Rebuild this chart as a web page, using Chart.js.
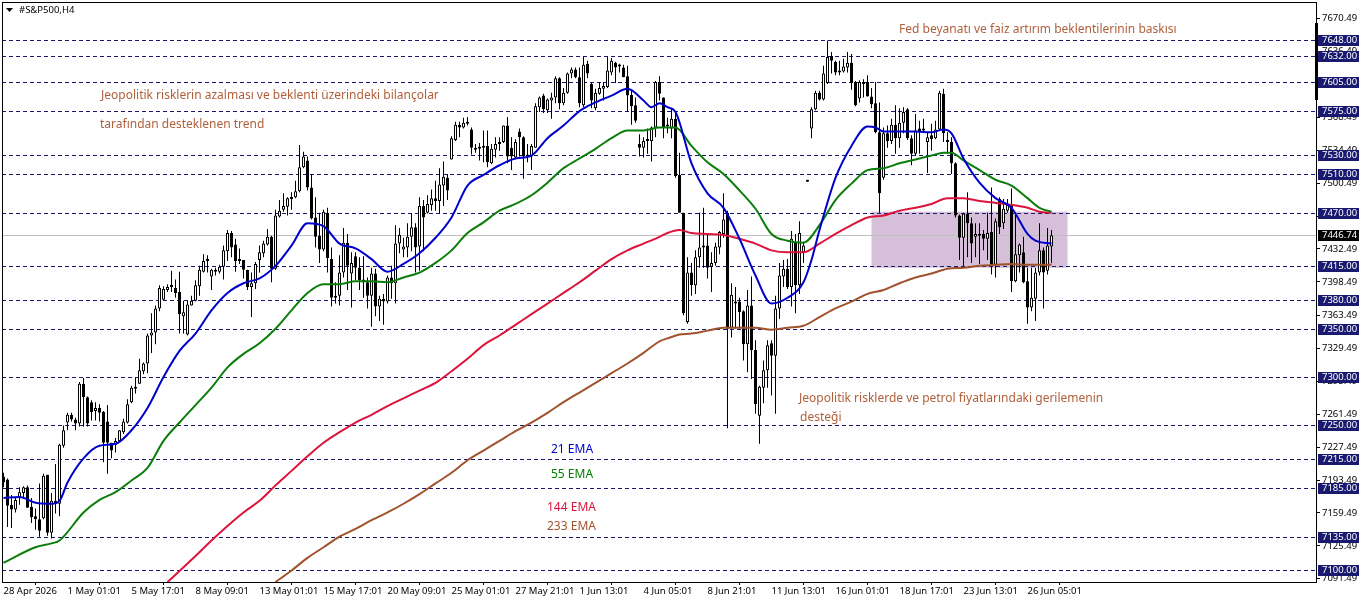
<!DOCTYPE html>
<html>
<head>
<meta charset="utf-8">
<title>#S&amp;P500,H4</title>
<script src="https://cdn.jsdelivr.net/npm/chart.js@4"></script>
<style>
  html, body { margin:0; padding:0; background:#fff; overflow:hidden; }
  canvas { display:block; }
</style>
</head>
<body>
<canvas id="chart" width="1362" height="603"></canvas>
<script>
const opens = [
  7197,7194,7168,7163,7175,7180,7186,7166,7156,7153,
  7154,7199,7139,7172,7169,7229,7253,7261,7256,7252,
  7293,7279,7274,7265,7268,7264,7254,7232,7230,7234,
  7243,7253,7274,7290,7293,7306,7314,7343,7346,7371,
  7380,7390,7395,7392,7388,7363,7344,7374,7379,7394,
  7409,7420,7404,7409,7409,7414,7430,7449,7437,7421,
  7421,7411,7393,7397,7421,7428,7437,7445,7412,7466,
  7473,7476,7486,7486,7492,7517,7524,7496,7465,7446,
  7432,7470,7422,7384,7384,7408,7439,7407,7425,7413,
  7401,7398,7384,7407,7373,7381,7378,7403,7397,7438,
  7432,7434,7445,7455,7435,7477,7470,7478,7485,7482,
  7498,7506,7525,7545,7561,7558,7564,7556,7537,7536,
  7537,7539,7521,7535,7543,7543,7560,7537,7527,7554,
  7548,7530,7528,7537,7579,7591,7576,7586,7589,7609,
  7583,7594,7614,7618,7610,7581,7624,7603,7578,7593,
  7598,7600,7615,7625,7622,7620,7611,7592,7581,7541,
  7537,7546,7544,7558,7605,7589,7559,7557,7567,7509,
  7470,7357,7408,7395,7424,7436,7436,7414,7418,7434,
  7448,7470,7351,7376,7378,7368,7334,7374,7328,7260,
  7289,7307,7335,7322,7371,7404,7412,7393,7439,7395,
  7429,7502,7557,7577,7594,7587,7604,7632,7626,7617,
  7616,7620,7625,7605,7588,7605,7605,7590,7583,7553,
  7506,7552,7544,7561,7547,7563,7577,7547,7531,7557,
  7557,7543,7550,7547,7556,7593,7544,7543,7521,7467,
  7444,7469,7459,7445,7448,7448,7443,7450,7416,7484,
  7459,7472,7479,7399,7426,7429,7399,7372,7381,7408,
  7431,7410,7435
];
const highs = [
  7201,7195,7178,7175,7186,7187,7188,7175,7164,7190,
  7200,7199,7180,7210,7231,7250,7263,7263,7258,7295,
  7299,7280,7276,7274,7272,7265,7271,7232,7237,7245,
  7257,7277,7291,7299,7319,7315,7345,7366,7374,7395,
  7394,7396,7410,7401,7409,7379,7379,7384,7400,7415,
  7427,7426,7412,7413,7416,7436,7452,7451,7443,7433,
  7421,7411,7408,7419,7436,7441,7453,7446,7473,7483,
  7490,7486,7491,7503,7540,7533,7528,7510,7486,7470,
  7473,7475,7434,7398,7426,7454,7448,7429,7429,7424,
  7425,7403,7413,7412,7384,7386,7405,7415,7457,7454,
  7444,7459,7469,7459,7486,7483,7488,7494,7503,7516,
  7523,7510,7549,7564,7564,7568,7569,7558,7541,7542,
  7555,7555,7541,7548,7548,7560,7569,7548,7546,7557,
  7549,7541,7541,7583,7590,7593,7588,7594,7611,7610,
  7599,7615,7620,7620,7620,7631,7627,7604,7598,7605,
  7605,7631,7630,7626,7624,7623,7622,7596,7589,7551,
  7548,7557,7559,7606,7611,7589,7568,7578,7574,7532,
  7470,7424,7418,7431,7470,7475,7447,7429,7439,7451,
  7490,7472,7397,7393,7382,7369,7390,7404,7338,7291,
  7317,7338,7338,7384,7418,7421,7422,7451,7448,7461,
  7440,7504,7579,7596,7596,7622,7648,7636,7627,7627,
  7629,7636,7634,7606,7607,7608,7612,7599,7605,7584,
  7558,7560,7567,7581,7578,7579,7578,7550,7572,7565,
  7567,7553,7562,7565,7596,7598,7553,7548,7522,7468,
  7470,7491,7465,7459,7459,7452,7470,7496,7464,7486,
  7484,7484,7495,7469,7438,7445,7413,7413,7413,7459,
  7434,7454,7452
];
const lows = [
  7186,7145,7144,7160,7168,7175,7165,7149,7142,7135,
  7153,7136,7133,7159,7156,7227,7245,7254,7245,7249,
  7249,7249,7255,7255,7254,7212,7200,7216,7222,7233,
  7241,7252,7273,7283,7293,7303,7304,7325,7334,7368,
  7380,7388,7388,7382,7345,7345,7343,7374,7378,7384,
  7408,7408,7390,7405,7407,7401,7420,7424,7409,7417,
  7402,7390,7362,7391,7408,7424,7436,7398,7411,7465,
  7471,7467,7473,7485,7491,7516,7493,7463,7434,7418,
  7430,7408,7373,7376,7374,7403,7390,7372,7400,7390,
  7382,7371,7352,7363,7358,7354,7376,7381,7376,7428,
  7424,7424,7430,7408,7410,7430,7469,7472,7472,7469,
  7477,7483,7525,7544,7548,7557,7560,7530,7532,7524,
  7522,7517,7520,7527,7534,7542,7521,7514,7526,7528,
  7505,7522,7514,7537,7574,7573,7573,7567,7583,7577,
  7581,7593,7609,7609,7579,7579,7609,7578,7576,7592,
  7586,7599,7612,7604,7615,7610,7574,7561,7563,7528,
  7527,7531,7523,7548,7586,7547,7552,7547,7506,7470,
  7364,7355,7384,7386,7413,7413,7402,7388,7415,7427,
  7444,7247,7341,7350,7350,7317,7305,7298,7262,7231,
  7273,7289,7281,7262,7360,7393,7391,7373,7366,7386,
  7418,7502,7547,7576,7586,7586,7603,7614,7612,7612,
  7615,7615,7597,7580,7584,7589,7590,7578,7552,7470,
  7504,7537,7541,7531,7537,7552,7545,7519,7529,7531,
  7552,7511,7534,7546,7555,7543,7531,7510,7465,7421,
  7413,7424,7418,7424,7417,7431,7421,7406,7403,7448,
  7453,7470,7388,7398,7408,7397,7355,7368,7358,7405,
  7371,7406,7418
];
const closes = [
  7191,7167,7163,7173,7181,7186,7165,7155,7153,7141,
  7198,7139,7172,7169,7230,7245,7261,7256,7252,7293,
  7279,7252,7264,7268,7263,7232,7232,7224,7234,7245,
  7254,7272,7289,7288,7307,7314,7343,7346,7371,7392,
  7391,7393,7393,7387,7365,7367,7375,7379,7395,7411,
  7420,7421,7411,7411,7414,7431,7449,7434,7420,7420,
  7411,7393,7397,7417,7429,7438,7445,7412,7467,7472,
  7477,7485,7484,7492,7517,7528,7496,7464,7445,7432,
  7471,7423,7382,7382,7408,7439,7415,7418,7413,7400,
  7398,7384,7407,7373,7381,7378,7403,7397,7438,7447,
  7435,7445,7455,7434,7477,7465,7479,7485,7482,7499,
  7507,7493,7547,7561,7558,7563,7562,7537,7535,7537,
  7538,7522,7536,7541,7541,7560,7528,7528,7543,7548,
  7528,7528,7539,7580,7589,7577,7587,7589,7609,7583,
  7594,7614,7618,7610,7583,7623,7614,7586,7594,7599,
  7601,7617,7627,7620,7621,7610,7591,7580,7565,7537,
  7544,7544,7558,7605,7593,7558,7560,7567,7508,7470,
  7366,7408,7395,7424,7434,7434,7413,7418,7435,7450,
  7463,7350,7385,7378,7367,7334,7374,7328,7272,7290,
  7307,7333,7322,7371,7405,7412,7393,7443,7395,7449,
  7436,7503,7577,7594,7587,7614,7631,7627,7615,7615,
  7621,7625,7604,7581,7605,7603,7590,7582,7553,7490,
  7552,7544,7561,7547,7563,7574,7547,7531,7555,7554,
  7555,7548,7546,7556,7594,7552,7543,7521,7467,7444,
  7469,7459,7438,7448,7446,7443,7449,7416,7461,7455,
  7474,7479,7399,7427,7437,7398,7372,7382,7408,7431,
  7408,7436,7446.74
];

// EMA readings, taken at the bar index in the matching *Bars list
const ema21Bars = [0,4,8,12,14,16,20,24,28,32,36,40,44,48,52,56,60,64,68,72,76,80,84,88,92,96,100,104,108,112,116,120,124,128,132,136,140,144,148,152,156,160,162,164,166,168,172,176,180,184,188,192,196,200,202,204,208,212,216,218,220,224,228,232,235,237,240,244,248,252,256,258,262];
const ema21 = [7175,7176,7170,7169,7172,7191,7216,7229,7231,7245,7268,7300,7327,7345,7369,7387,7397,7402,7415,7436,7459,7456,7438,7433,7422,7409,7417,7428,7444,7465,7498,7509,7519,7526,7529,7547,7560,7575,7584,7591,7598,7586,7579,7583,7579,7574,7521,7490,7475,7443,7405,7376,7382,7398,7421,7452,7506,7539,7559,7558,7554,7554,7554,7553,7556,7552,7526,7501,7485,7475,7448,7441,7438];

const ema55Bars = [0,8,12,14,20,24,28,32,36,40,44,48,52,56,60,64,68,72,76,80,84,88,92,96,100,104,108,112,116,120,124,128,132,136,140,144,148,152,156,160,164,168,172,176,180,184,188,192,196,200,204,208,212,216,220,224,228,232,235,237,240,244,248,252,256,259,262];
const ema55 = [7108,7124,7128,7131,7160,7173,7181,7193,7206,7234,7253,7271,7289,7310,7324,7335,7350,7369,7387,7396,7396,7399,7399,7398,7403,7408,7418,7431,7449,7460,7472,7479,7488,7501,7516,7526,7536,7547,7555,7555,7558,7558,7539,7522,7510,7493,7474,7448,7441,7439,7457,7483,7500,7514,7516,7521,7525,7529,7532,7532,7524,7514,7504,7498,7485,7475,7471];

const ema144Bars = [41,48,52,56,60,64,68,72,76,80,84,88,92,96,100,104,108,112,116,120,124,128,132,136,140,144,148,152,156,160,164,166,169,172,176,180,184,188,192,196,200,204,208,212,216,220,224,228,232,236,240,244,248,252,256,259,262];
const ema144 = [7088,7115,7131,7146,7160,7172,7188,7203,7218,7232,7243,7253,7261,7270,7278,7286,7294,7306,7319,7333,7343,7354,7365,7376,7387,7398,7410,7422,7431,7438,7445,7449,7452,7449,7448,7447,7443,7438,7431,7429,7429,7438,7448,7457,7465,7467,7472,7475,7479,7485,7485,7482,7480,7478,7475,7471,7470];

const ema233Bars = [68,72,76,80,84,88,92,96,100,104,108,112,116,120,124,128,132,136,140,144,148,152,156,160,164,166,169,172,176,180,184,188,192,196,200,204,208,212,216,220,224,228,232,236,240,244,248,252,256,262];
const ema233 = [7088,7100,7113,7124,7135,7143,7152,7160,7169,7179,7190,7201,7214,7224,7234,7244,7253,7263,7274,7284,7294,7304,7314,7325,7337,7340,7344,7345,7348,7351,7351,7351,7349,7351,7353,7362,7371,7378,7386,7390,7397,7403,7407,7412,7413,7415,7416,7417,7416,7416];

const levels = [7648,7632,7605,7575,7530,7510,7470,7415,7380,7350,7300,7250,7215,7185,7135,7100];
const lastPrice = 7446.74;
const yTickValues = [7670.49,7636.49,7602.49,7568.49,7534.49,7500.49,7466.49,7432.49,7398.49,7363.49,7329.49,7295.49,7261.49,7227.49,7193.49,7159.49,7125.49,7091.49];
const xTickBars = [0,16,32,48,64,80,96,112,128,144,160,176,192,208,224,240,256];
const xTickLabels = ["28 Apr 2026","1 May 01:01","5 May 17:01","8 May 09:01","13 May 01:01","15 May 17:01","20 May 09:01","25 May 01:01","27 May 21:01","1 Jun 13:01","4 Jun 05:01","8 Jun 21:01","11 Jun 13:01","16 Jun 01:01","18 Jun 17:01","23 Jun 13:01","26 Jun 05:01"];

const notes = [
  { text:"Fed beyanatı ve faiz artırım beklentilerinin baskısı", x:899, y:30, color:"#b0603c" },
  { text:"Jeopolitik risklerin azalması ve beklenti üzerindeki bilançolar", x:101, y:96, color:"#b0603c" },
  { text:"tarafından desteklenen trend", x:100, y:125, color:"#b0603c" },
  { text:"Jeopolitik risklerde ve petrol fiyatlarındaki gerilemenin", x:799, y:399, color:"#b0603c" },
  { text:"desteği", x:800, y:418, color:"#b0603c" },
  { text:"21 EMA", x:551, y:450, color:"#0000cd" },
  { text:"55 EMA", x:551, y:475, color:"#008000" },
  { text:"144 EMA", x:547, y:508, color:"#dc143c" },
  { text:"233 EMA", x:547, y:527, color:"#a0522d" }
];

const xMin = -0.375, xMax = 328.125;
const yMin = 7088.1, yMax = 7687.8;
const boxBars = [217, 266], boxPrices = [7413, 7471];
const FONT = '"Noto Sans", sans-serif';

function emaData(bars, vals) {
  return bars.map((b, i) => ({ x: b, y: vals[i] }));
}

function emaDataset(label, bars, vals, color) {
  return {
    type: "line", label, data: emaData(bars, vals), order: 1,
    borderColor: color, borderWidth: 2, pointRadius: 0,
    cubicInterpolationMode: "monotone", fill: false
  };
}

// box, levels and last price line sit under the candles
const backdropPlugin = {
  id: "backdrop",
  beforeDatasetsDraw(chart) {
    const { ctx, chartArea: a, scales: { x, y } } = chart;
    ctx.save();
    ctx.fillStyle = "#d6bfd8";
    const bx = x.getPixelForValue(boxBars[0]), by = y.getPixelForValue(boxPrices[1]);
    ctx.fillRect(bx, by, x.getPixelForValue(boxBars[1]) - bx, y.getPixelForValue(boxPrices[0]) - by);

    ctx.strokeStyle = "#c0c0c0";
    ctx.lineWidth = 1;
    const lp = Math.round(y.getPixelForValue(lastPrice)) + 0.5;
    ctx.beginPath(); ctx.moveTo(a.left, lp); ctx.lineTo(a.right, lp); ctx.stroke();

    ctx.strokeStyle = "#191970";
    ctx.setLineDash([4, 3]);
    levels.forEach(v => {
      const py = Math.round(y.getPixelForValue(v)) + 0.5;
      ctx.beginPath(); ctx.moveTo(a.left, py); ctx.lineTo(a.right, py); ctx.stroke();
    });
    ctx.restore();
  }
};

const overlayPlugin = {
  id: "overlay",
  afterDraw(chart) {
    const { ctx, chartArea: a, scales: { y } } = chart;
    ctx.save();
    ctx.strokeStyle = "#000";
    ctx.lineWidth = 1;
    ctx.strokeRect(a.left + 0.5, a.top + 0.5, a.right - a.left, a.bottom - a.top);

    // the heavy mark on the price axis
    ctx.fillStyle = "#000";
    ctx.fillRect(a.right - 1, 23, 3, 77);

    // price tags
    ctx.font = "9.5px " + FONT;
    ctx.textBaseline = "middle";
    levels.forEach(v => {
      const py = Math.round(y.getPixelForValue(v));
      ctx.fillStyle = "#191970";
      ctx.fillRect(a.right + 2, py - 5, 41, 11);
      ctx.fillStyle = "#fff";
      ctx.fillText(v.toFixed(2), a.right + 6, py + 0.5);
    });
    const lp = Math.round(y.getPixelForValue(lastPrice));
    ctx.fillStyle = "#000";
    ctx.fillRect(a.right + 2, lp - 5, 41, 11);
    ctx.fillStyle = "#fff";
    ctx.fillText(lastPrice.toFixed(2), a.right + 6, lp + 0.5);

    // header
    ctx.fillStyle = "#000";
    ctx.beginPath(); ctx.moveTo(6, 8); ctx.lineTo(13, 8); ctx.lineTo(9.5, 12); ctx.closePath(); ctx.fill();
    ctx.fillText("#S&P500,H4", 19, 10.5);

    // text notes
    ctx.font = "12px " + FONT;
    notes.forEach(n => {
      ctx.fillStyle = n.color;
      ctx.fillText(n.text, n.x, n.y);
    });
    ctx.restore();
  }
};

new Chart(document.getElementById("chart").getContext("2d"), {
  type: "bar",
  data: {
    datasets: [
      emaDataset("21 EMA", ema21Bars, ema21, "#0000cd"),
      emaDataset("55 EMA", ema55Bars, ema55, "#0a7d0a"),
      emaDataset("144 EMA", ema144Bars, ema144, "#dc143c"),
      emaDataset("233 EMA", ema233Bars, ema233, "#a0522d"),
      {
        label: "body", order: 2, grouped: false,
        data: opens.map((o, i) => ({ x: i, y: [o, closes[i]] })),
        backgroundColor: opens.map((o, i) => closes[i] >= o ? "#fff" : "#000"),
        borderColor: "#000", borderWidth: 1, borderSkipped: false,
        barThickness: 3, minBarLength: 2, inflateAmount: 0
      },
      {
        label: "wick", order: 3, grouped: false,
        data: lows.map((l, i) => ({ x: i, y: [l, highs[i]] })),
        backgroundColor: "#000", borderWidth: 0,
        barThickness: 1, inflateAmount: 0
      }
    ]
  },
  options: {
    responsive: false,
    animation: false,
    layout: { padding: { left: 2, top: 2, right: 0, bottom: 0 } },
    plugins: { legend: { display: false }, tooltip: { enabled: false } },
    scales: {
      x: {
        type: "linear", min: xMin, max: xMax, offset: false,
        grid: { drawOnChartArea: false, drawTicks: true, tickLength: 3, color: "#000" },
        border: { display: false },
        afterBuildTicks: s => { s.ticks = xTickBars.map(v => ({ value: v })); },
        afterFit: s => { s.height = 21; s.paddingLeft = 0; s.paddingRight = 0; },
        ticks: {
          autoSkip: false, maxRotation: 0, minRotation: 0, align: "start", padding: 1,
          color: "#000", font: { family: FONT, size: 9.5 },
          callback: v => xTickLabels[xTickBars.indexOf(v)]
        }
      },
      y: {
        type: "linear", position: "right", min: yMin, max: yMax,
        grid: { drawOnChartArea: false, drawTicks: true, tickLength: 4, color: "#000" },
        border: { display: false },
        afterBuildTicks: s => { s.ticks = yTickValues.map(v => ({ value: v })); },
        afterFit: s => { s.width = 46; s.paddingTop = 0; s.paddingBottom = 0; },
        ticks: {
          autoSkip: false, padding: 2, color: "#000", font: { family: FONT, size: 9.5 },
          callback: v => v.toFixed(2)
        }
      }
    }
  },
  plugins: [backdropPlugin, overlayPlugin]
});
</script>
</body>
</html>
